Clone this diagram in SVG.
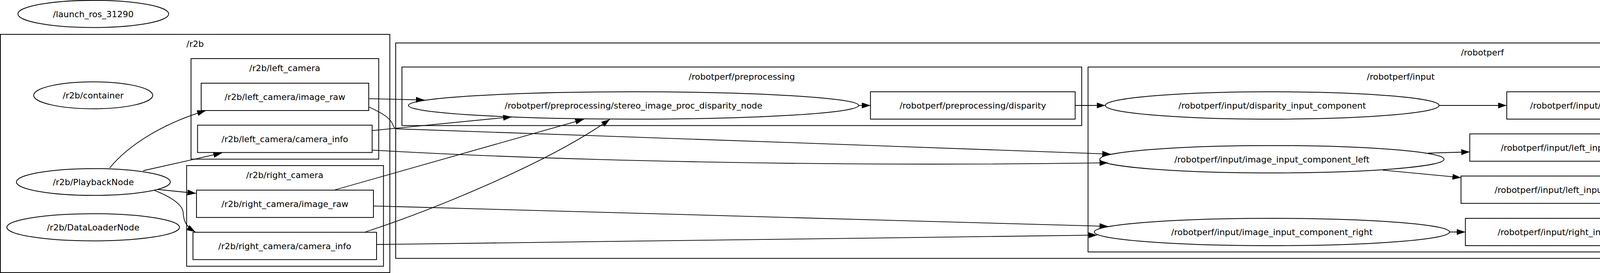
<svg xmlns="http://www.w3.org/2000/svg" width="6579" height="699" viewBox="0 0 6579 699">
<style>
  .bg{fill:#fff}
  .cl{fill:none;stroke:#000;stroke-width:2}
  .nd{fill:none;stroke:#000;stroke-width:2}
  .tx{font-family:"DejaVu Sans",sans-serif;font-size:22px;fill:#000;text-anchor:middle}
  .ed{fill:none;stroke:#000;stroke-width:1.8}
</style>
<defs>
  <marker id="ah" viewBox="0 0 22 15" refX="22" refY="7.5" markerWidth="22" markerHeight="15" markerUnits="userSpaceOnUse" orient="auto">
    <path d="M0,0 L22,7.5 L0,15 z" fill="#000"/>
  </marker>
</defs>
<rect class="bg" x="0" y="0" width="6579" height="699"/>

<g id="clusters">
  <g id="cluster_r2b">
    <rect class="cl" x="1" y="88" width="997" height="610"/>
    <text class="tx" x="499.5" y="120">/r2b</text>
  </g>
  <g id="cluster_r2b_left_camera">
    <rect class="cl" x="489" y="150" width="480.5" height="257.5"/>
    <text class="tx" x="729" y="182">/r2b/left_camera</text>
  </g>
  <g id="cluster_r2b_right_camera">
    <rect class="cl" x="477.7" y="424" width="504" height="257.7"/>
    <text class="tx" x="729" y="456">/r2b/right_camera</text>
  </g>
  <g id="cluster_robotperf">
    <rect class="cl" x="1013" y="110" width="5563.7" height="551.6"/>
    <text class="tx" x="3795" y="142">/robotperf</text>
  </g>
  <g id="cluster_robotperf_preprocessing">
    <rect class="cl" x="1029" y="171.6" width="1740.2" height="149.9"/>
    <text class="tx" x="1899" y="204">/robotperf/preprocessing</text>
  </g>
  <g id="cluster_robotperf_input">
    <rect class="cl" x="2785.4" y="171.6" width="1602.2" height="473.5"/>
    <text class="tx" x="3586" y="204">/robotperf/input</text>
  </g>
  <g id="cluster_robotperf_benchmark">
    <rect class="cl" x="4403.8" y="333.5" width="1494.7" height="149.8"/>
    <text class="tx" x="5151" y="366">/robotperf/benchmark</text>
  </g>
</g>

<g id="connectors">
  <path class="ed" marker-end="url(#ah)" d="M280.6,430.2 C330,370 420,315 526.7,283.3"/>
  <path class="ed" marker-end="url(#ah)" d="M366.7,437 L568.3,391.7"/>
  <path class="ed" marker-end="url(#ah)" d="M403.3,485 L501.7,495"/>
  <path class="ed" marker-end="url(#ah)" d="M393.3,486.7 C440,505 468,525 469,545 C470,570 480,582 500,594"/>
  <path class="ed" marker-end="url(#ah)" d="M943.3,252.7 L1086.7,256"/>
  <path class="ed" marker-end="url(#ah)" d="M944.3,274 C985,292 1000,305 1005,318 C1010,330 1012,330 1020,330 C1500,346 2300,375 2843.6,394.6"/>
  <path class="ed" marker-end="url(#ah)" d="M952.7,334.3 L1310,299.3"/>
  <path class="ed" marker-end="url(#ah)" d="M952.7,384.3 C1400,410 2100,428 2836.6,416.8"/>
  <path class="ed" marker-end="url(#ah)" d="M857.8,486 L1494.6,305.4"/>
  <path class="ed" marker-end="url(#ah)" d="M955.7,527.3 L2836.6,579.6"/>
  <path class="ed" marker-end="url(#ah)" d="M935,594 C1100,540 1400,420 1561.2,305.4"/>
  <path class="ed" marker-end="url(#ah)" d="M965,626 L2808.5,602"/>
  <path class="ed" marker-end="url(#ah)" d="M2198.2,270 L2228.4,270"/>
  <path class="ed" marker-end="url(#ah)" d="M2752.4,270 L2829.6,270"/>
  <path class="ed" marker-end="url(#ah)" d="M3684,270 L3857.3,270"/>
  <path class="ed" marker-end="url(#ah)" d="M3656,392 L3762.6,389"/>
  <path class="ed" marker-end="url(#ah)" d="M3540,435.6 L3740.2,454.7"/>
  <path class="ed" marker-end="url(#ah)" d="M3710.7,594 L3751.4,594"/>
  <path class="ed" marker-end="url(#ah)" d="M4253.6,300.7 L4751,398.3"/>
  <path class="ed" marker-end="url(#ah)" d="M4349.3,396.7 L4538.7,407.7"/>
  <path class="ed" marker-end="url(#ah)" d="M4370.7,466 L4538.7,454"/>
  <path class="ed" marker-end="url(#ah)" d="M4284.2,557.3 L4751,464"/>
  <path class="ed" marker-end="url(#ah)" d="M5393,431.8 L5423.3,431.8"/>
  <path class="ed" marker-end="url(#ah)" d="M5881.2,431.8 L5915.8,431.8"/>
</g>

<g id="n_launch_ros_31290">
  <ellipse class="nd" cx="238.8" cy="35.7" rx="193" ry="34.8"/>
  <text class="tx" x="238.8" y="43.7">/launch_ros_31290</text>
</g>
<g id="n_r2b_container">
  <ellipse class="nd" cx="238.6" cy="244" rx="152.4" ry="34.5"/>
  <text class="tx" x="238.6" y="252">/r2b/container</text>
</g>
<g id="n_r2b_PlaybackNode">
  <ellipse class="nd" cx="239" cy="466" rx="197" ry="34.3"/>
  <text class="tx" x="239" y="474">/r2b/PlaybackNode</text>
</g>
<g id="n_r2b_DataLoaderNode">
  <ellipse class="nd" cx="238.5" cy="582" rx="221" ry="34.8"/>
  <text class="tx" x="238.5" y="590">/r2b/DataLoaderNode</text>
</g>
<g id="t_left_image_raw">
  <rect class="nd" x="515" y="213" width="429" height="70"/>
  <text class="tx" x="729.5" y="256">/r2b/left_camera/image_raw</text>
</g>
<g id="t_left_camera_info">
  <rect class="nd" x="505.7" y="320.5" width="447" height="70"/>
  <text class="tx" x="729.2" y="363.5">/r2b/left_camera/camera_info</text>
</g>
<g id="t_right_image_raw">
  <rect class="nd" x="503" y="486.8" width="453" height="70"/>
  <text class="tx" x="729.5" y="530">/r2b/right_camera/image_raw</text>
</g>
<g id="t_right_camera_info">
  <rect class="nd" x="494" y="594.7" width="470" height="70"/>
  <text class="tx" x="729" y="637.7">/r2b/right_camera/camera_info</text>
</g>
<g id="n_disparity_node">
  <ellipse class="nd" cx="1621.9" cy="270" rx="576.3" ry="35"/>
  <text class="tx" x="1621.9" y="278">/robotperf/preprocessing/stereo_image_proc_disparity_node</text>
</g>
<g id="t_preprocessing_disparity">
  <rect class="nd" x="2228.4" y="235" width="524" height="70"/>
  <text class="tx" x="2490.4" y="278">/robotperf/preprocessing/disparity</text>
</g>
<g id="n_disparity_input_component">
  <ellipse class="nd" cx="3256.8" cy="270" rx="427.2" ry="35"/>
  <text class="tx" x="3256.8" y="278">/robotperf/input/disparity_input_component</text>
</g>
<g id="n_image_input_component_left">
  <ellipse class="nd" cx="3256.1" cy="407.7" rx="440.6" ry="35"/>
  <text class="tx" x="3256.1" y="415.7">/robotperf/input/image_input_component_left</text>
</g>
<g id="n_image_input_component_right">
  <ellipse class="nd" cx="3256.1" cy="594" rx="454.6" ry="35"/>
  <text class="tx" x="3256.1" y="602">/robotperf/input/image_input_component_right</text>
</g>
<g id="t_input_disparity">
  <rect class="nd" x="3857.3" y="235" width="396.4" height="70"/>
  <text class="tx" x="4055.5" y="278">/robotperf/input/disparity</text>
</g>
<g id="t_left_input_camera_info">
  <rect class="nd" x="3762.6" y="342.8" width="585.8" height="70"/>
  <text class="tx" x="4055.5" y="385.8">/robotperf/input/left_input/camera_info</text>
</g>
<g id="t_left_input_left_image_raw">
  <rect class="nd" x="3740.2" y="450.7" width="630.7" height="70"/>
  <text class="tx" x="4055.5" y="493.7">/robotperf/input/left_input/left_image_raw</text>
</g>
<g id="t_right_input_camera_info">
  <rect class="nd" x="3751.4" y="559" width="609" height="70"/>
  <text class="tx" x="4055.5" y="602">/robotperf/input/right_input/camera_info</text>
</g>
<g id="n_pc_node">
  <ellipse class="nd" cx="4906.8" cy="431.8" rx="486.2" ry="35"/>
  <text class="tx" x="4906.8" y="439.8">/robotperf/benchmark/stereo_image_proc_pc_node</text>
</g>
<g id="t_points2">
  <rect class="nd" x="5423.3" y="396.8" width="458" height="70"/>
  <text class="tx" x="5652.3" y="439.8">/robotperf/benchmark/points2</text>
</g>
<g id="n_pc_output_component">
  <ellipse class="nd" cx="6238" cy="431.8" rx="322.2" ry="35"/>
  <text class="tx" x="6238" y="439.8">/robotperf/pc_output_component</text>
</g>
</svg>
